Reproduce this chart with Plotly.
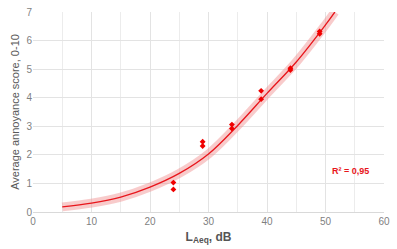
import plotly.graph_objects as go

# Observed data points (L_Aeq dB, average annoyance score)
obs_x = [24, 24, 29, 29, 34, 34, 39, 39, 44, 44, 49, 49]
obs_y = [1.03, 0.79, 2.46, 2.31, 3.06, 2.92, 4.24, 3.95, 5.03, 4.97, 6.32, 6.24]

# Fitted curve
fit_x = [5, 10, 15, 20, 25, 30, 35, 40, 45, 50, 51.6]
fit_y = [0.18, 0.31, 0.52, 0.87, 1.35, 2.03, 3.03, 4.15, 5.25, 6.55, 7.0]

x_ticks = [0, 10, 20, 30, 40, 50, 60]
y_ticks = [0, 1, 2, 3, 4, 5, 6, 7]

FONT = "Liberation Sans, Arial, sans-serif"

fig = go.Figure()

# confidence band (drawn as a wide translucent stroke)
fig.add_trace(go.Scatter(
    x=fit_x, y=fit_y, mode="lines",
    line=dict(color="rgba(240,140,140,0.45)", width=9, shape="spline"),
    hoverinfo="skip", showlegend=False))

fig.add_trace(go.Scatter(
    x=fit_x, y=fit_y, mode="lines",
    line=dict(color="#e8161c", width=1.3, shape="spline"),
    showlegend=False))

fig.add_trace(go.Scatter(
    x=obs_x, y=obs_y, mode="markers",
    marker=dict(symbol="diamond", size=4.5, color="#f00000"),
    showlegend=False))

fig.add_annotation(x=54.3, y=1.45, text="<b>R² = 0,95</b>", showarrow=False,
                   font=dict(family=FONT, size=9, color="#e8161c"))

fig.update_layout(
    width=397, height=249,
    margin=dict(l=33, r=13, t=6, b=37),
    paper_bgcolor="white", plot_bgcolor="white",
    font=dict(family=FONT),
)

fig.update_xaxes(
    range=[0, 60], tickvals=x_ticks, ticktext=[str(v) for v in x_ticks],
    showgrid=True, gridcolor="#e3e3e3", gridwidth=1,
    minor=dict(dtick=5, showgrid=True, gridcolor="#ececec", gridwidth=1),
    zeroline=False, showline=True, linecolor="#d9d9d9", linewidth=1,
    ticks="", tickfont=dict(size=10, color="#7f7f7f"),
    ticklabeloverflow="allow",
    title=dict(text="<b>L<sub>Aeq</sub>, dB</b>", font=dict(size=12, color="#555555"), standoff=6),
)
fig.update_yaxes(
    range=[0, 7], tickvals=y_ticks, ticktext=[str(v) for v in y_ticks],
    showgrid=True, gridcolor="#e3e3e3", gridwidth=1,
    zeroline=False, showline=False,
    ticks="", tickfont=dict(size=10, color="#7f7f7f"),
    ticklabeloverflow="allow",
    title=dict(text="Average annoyance score, 0-10", font=dict(size=11, color="#595959"), standoff=4),
)

fig.write_html("out.html")
